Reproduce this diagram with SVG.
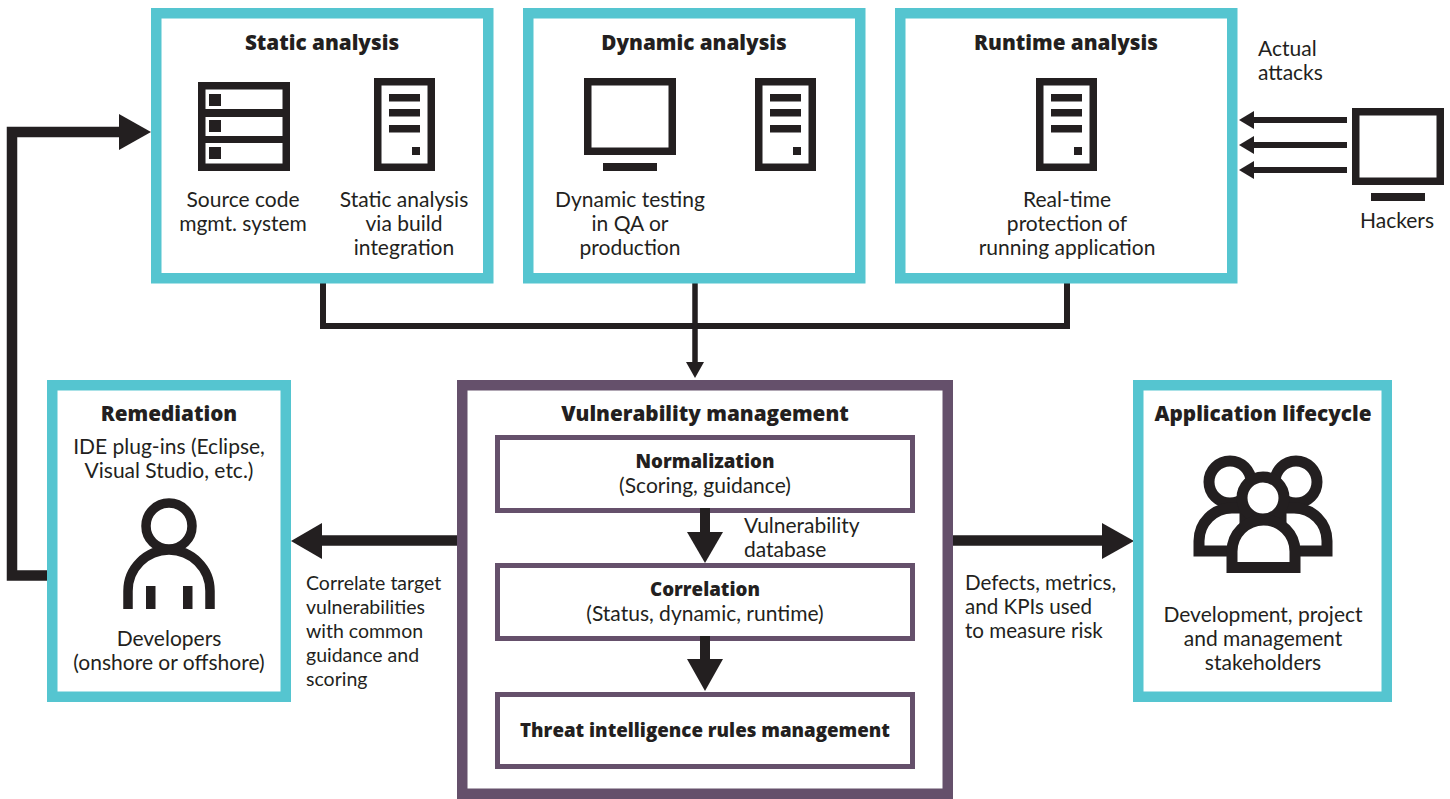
<svg xmlns="http://www.w3.org/2000/svg" width="1450" height="799" viewBox="0 0 1450 799">
<style>
text{font-family:"Lato","Noto Sans","Liberation Sans",sans-serif;fill:#231f20;text-anchor:middle}
.t{font-family:"Open Sans","Liberation Sans",sans-serif;font-size:20.7px;font-weight:800}
.b{font-family:"Open Sans","Liberation Sans",sans-serif;font-size:18.7px;font-weight:800}
.l{font-size:21px;font-weight:400}
.s{font-size:21px;font-weight:400;text-anchor:start}
.s2{font-size:19.5px;font-weight:400;text-anchor:start}
.s3{font-size:20.6px;font-weight:400;text-anchor:start}
.teal{fill:#fff;stroke:#55c5d0;stroke-width:10.5}
.pur{fill:#fff;stroke:#65506b;stroke-width:10.5}
.pur2{fill:#fff;stroke:#65506b;stroke-width:5}
.k{fill:#231f20}
.o{fill:#fff;stroke:#231f20;stroke-width:7.5}
.c{fill:none;stroke:#231f20}
.r{fill:#fff;stroke:#231f20;stroke-width:11}
</style>
<defs>
<g id="tower"><rect class="o" x="377.750" y="81.750" width="53.500" height="85.500"/><rect class="k" x="389" y="94" width="31" height="7.500"/><rect class="k" x="389" y="109" width="31" height="7.500"/><rect class="k" x="389" y="125" width="31" height="7.500"/><rect class="k" x="412" y="147" width="8" height="8"/></g>
<g id="monitor"><rect class="o" x="1355.750" y="111.750" width="84.500" height="69.500"/><rect class="k" x="1371" y="193" width="54" height="8"/></g>
</defs>
<g id="connectors">
<path class="c" stroke-width="6" d="M323,283V326H1067V283"/>
<path class="c" stroke-width="5.500" d="M695,283V364"/>
<polygon class="k" points="686,362 704,362 695,378"/>
<path class="c" stroke-width="10.500" d="M47,575.500H12V132H121"/>
<polygon class="k" points="119,114 119,150 151,132"/>
<path class="c" stroke-width="10.500" d="M460,540.500H320"/>
<polygon class="k" points="322,523 322,559 291,541"/>
<path class="c" stroke-width="10.500" d="M953,540.500H1104"/>
<polygon class="k" points="1102,523 1102,559 1134,541"/>
<path class="c" stroke-width="6" d="M1347,120H1250M1347,145H1250M1347,170H1250"/>
<polygon class="k" points="1254,111 1254,129 1239,120"/>
<polygon class="k" points="1254,136 1254,154 1239,145"/>
<polygon class="k" points="1254,161 1254,179 1239,170"/>
</g>
<g id="static"><rect class="teal" x="156.250" y="13.250" width="332" height="265"/>
<text class="t" x="322" y="50">Static analysis</text>
<rect class="o" x="201.750" y="85.750" width="84.500" height="81.500"/>
<rect class="k" x="202" y="109" width="84" height="8"/><rect class="k" x="202" y="136" width="84" height="7"/>
<rect class="k" x="209" y="94" width="12" height="12"/><rect class="k" x="209" y="120" width="12" height="12"/><rect class="k" x="209" y="147" width="12" height="12"/>
<use href="#tower"/>
<text class="l" x="243" y="207">Source code</text><text class="l" x="243" y="231">mgmt. system</text>
<text class="l" x="404" y="207">Static analysis</text><text class="l" x="404" y="231">via build</text><text class="l" x="404" y="255">integration</text></g>
<g id="dynamic"><rect class="teal" x="528.250" y="13.250" width="332" height="265"/>
<text class="t" x="694" y="50">Dynamic analysis</text>
<use href="#monitor" x="-768" y="-30"/><use href="#tower" x="381"/>
<text class="l" x="630" y="207">Dynamic testing</text><text class="l" x="630" y="231">in QA or</text><text class="l" x="630" y="255">production</text></g>
<g id="runtime"><rect class="teal" x="900.250" y="13.250" width="332" height="265"/>
<text class="t" x="1066" y="50">Runtime analysis</text>
<use href="#tower" x="662"/>
<text class="l" x="1067" y="207">Real-time</text><text class="l" x="1067" y="231">protection of</text><text class="l" x="1067" y="255">running application</text></g>
<g id="hackers"><use href="#monitor"/><text class="l" x="1397" y="228">Hackers</text></g>
<g id="attacks-label"><text class="s" x="1258" y="56">Actual</text><text class="s" x="1258" y="80">attacks</text></g>
<g id="remediation"><rect class="teal" x="52.250" y="385.250" width="233.500" height="311.500"/>
<text class="t" x="169" y="421">Remediation</text>
<text class="l" x="169" y="454">IDE plug-ins (Eclipse,</text><text class="l" x="169" y="478">Visual Studio, etc.)</text>
<circle cx="169" cy="526" r="23" fill="#fff" stroke="#231f20" stroke-width="9.500"/>
<path class="c" stroke-width="9.500" d="M128,609V591A41,41 0 0 1 210,591V609"/>
<rect class="k" x="146" y="586" width="9.500" height="23"/><rect class="k" x="183" y="586" width="9.500" height="23"/>
<text class="l" x="169" y="646">Developers</text><text class="l" x="169" y="670">(onshore or offshore)</text></g>
<g id="lifecycle"><rect class="teal" x="1138.250" y="385.250" width="248.500" height="311.500"/>
<text class="t" x="1263" y="421">Application lifecycle</text>
<circle class="r" cx="1230" cy="482" r="21"/><circle class="r" cx="1296" cy="482" r="21"/>
<path class="r" d="M1240,551H1199V541A33,33 0 0 1 1232,508H1245V551Z"/>
<path class="r" d="M1286,551H1327V541A33,33 0 0 0 1294,508H1281V551Z"/>
<circle class="r" cx="1263" cy="498" r="21"/>
<path class="r" d="M1232,567.500V551.500A31.500,31.500 0 0 1 1295,551.500V567.500Z"/>
<text class="l" x="1263" y="622">Development, project</text><text class="l" x="1263" y="646">and management</text><text class="l" x="1263" y="670">stakeholders</text></g>
<g id="vuln"><rect class="pur" x="462.250" y="385.250" width="485.500" height="408.500"/>
<text class="t" x="705" y="421">Vulnerability management</text></g>
<g id="normalization"><rect class="pur2" x="497.500" y="437.500" width="415" height="73"/>
<text class="b" x="705" y="468">Normalization</text><text class="l" x="705" y="493">(Scoring, guidance)</text></g>
<g id="correlation"><rect class="pur2" x="497.500" y="565.500" width="415" height="73"/>
<text class="b" x="705" y="596">Correlation</text><text class="l" x="705" y="621">(Status, dynamic, runtime)</text></g>
<g id="threat"><rect class="pur2" x="497.500" y="694.500" width="415" height="72"/>
<text class="b" x="705" y="737">Threat intelligence rules management</text></g>
<g id="inner-connectors">
<path class="c" stroke-width="10" d="M705,508V535M705,636V662"/>
<polygon class="k" points="687,532 723,532 705,563"/>
<polygon class="k" points="687,659 723,659 705,691"/>
</g>
<g id="labels">
<text class="s" x="744" y="533">Vulnerability</text><text class="s" x="744" y="557">database</text>
<text class="s2" x="306" y="590">Correlate target</text><text class="s2" x="306" y="614">vulnerabilities</text><text class="s2" x="306" y="638">with common</text><text class="s2" x="306" y="662">guidance and</text><text class="s2" x="306" y="686">scoring</text>
<text class="s3" x="965" y="590">Defects, metrics,</text><text class="s3" x="965" y="614">and KPIs used</text><text class="s3" x="965" y="638">to measure risk</text>
</g>
</svg>
